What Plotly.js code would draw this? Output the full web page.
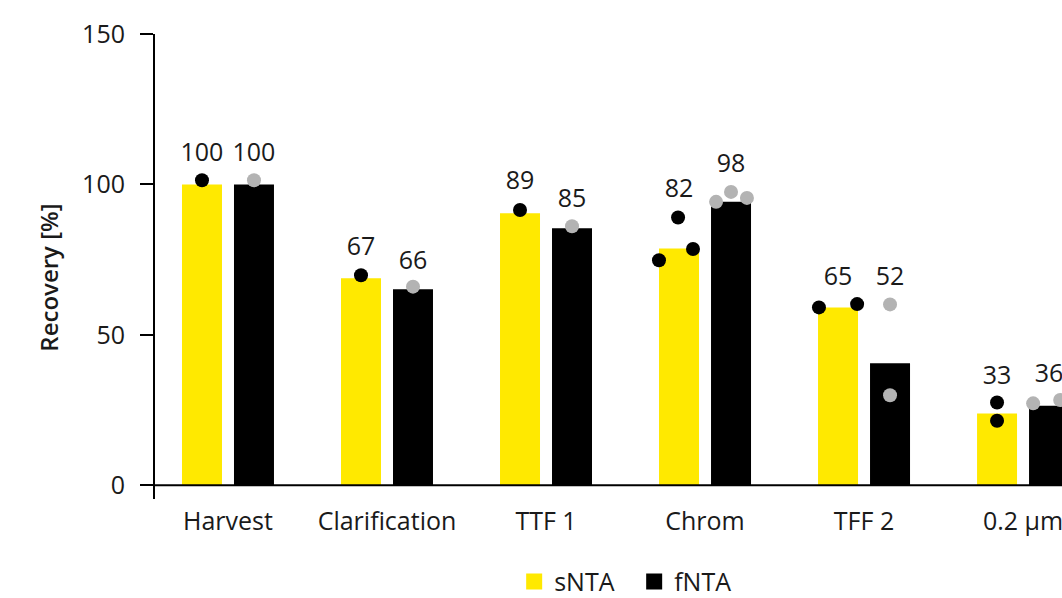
<!DOCTYPE html>
<html>
<head>
<meta charset="utf-8">
<script src="https://cdn.plot.ly/plotly-3.0.1.min.js"></script>
<style>html,body{margin:0;padding:0;background:#fff;}#chart{width:1062px;height:598px;}</style>
</head>
<body>
<div id="chart"></div>
<script>
// ---- data ----
var categories = ['Harvest', 'Clarification', 'TTF 1', 'Chrom', 'TFF 2', '0.2 µm'];
var sNTA = [100, 68.8, 90.4, 78.7, 59.1, 23.8];
var fNTA = [100, 65.1, 85.4, 94.2, 40.5, 26.4];
var sLabels = ['100', '67', '89', '82', '65', '33'];
var fLabels = ['100', '66', '85', '98', '52', '36'];
var sLabelY = [109.7, 78.5, 100.4, 97.8, 68.5, 35.6];
var fLabelY = [109.7, 73.8, 94.4, 106.1, 68.5, 36.4];
// replicate points per category
var sPoints = [[101.4], [69.8], [91.5], [74.8, 89.0, 78.5], [59.1, 60.2], [27.5, 21.4]];
var fPoints = [[101.4], [66.0], [86.1], [94.2, 97.5, 95.5], [60.1, 29.9], [27.2, 28.3]];
// horizontal jitter of points (fraction of category width)
var sJitter = [[0], [0], [0], [-0.126, -0.006, 0.088], [-0.12, 0.12], [0, 0]];
var fJitter = [[0], [0], [0], [-0.094, 0, 0.1], [0, 0], [-0.1, 0.07]];

// ---- build ----
var idx = categories.map(function (c, i) { return i; });
var off = 0.1635;
var yellow = '#ffe900', black = '#000000', grey = '#b3b3b3';
function pts(points, jit, shift) {
  var x = [], y = [];
  points.forEach(function (arr, i) {
    arr.forEach(function (v, k) { x.push(i + shift + jit[i][k]); y.push(v); });
  });
  return {x: x, y: y};
}
var sp = pts(sPoints, sJitter, -off);
var fp = pts(fPoints, fJitter, off);
var font = 'Open Sans, sans-serif';

var traces = [
  {type: 'bar', x: idx, y: sNTA, name: 'sNTA', marker: {color: yellow}, showlegend: false, hoverinfo: 'skip'},
  {type: 'bar', x: idx, y: fNTA, name: 'fNTA', marker: {color: black}, showlegend: false, hoverinfo: 'skip'},
  {type: 'scatter', mode: 'markers', x: sp.x, y: sp.y, marker: {color: black, size: 14}, showlegend: false},
  {type: 'scatter', mode: 'markers', x: fp.x, y: fp.y, marker: {color: grey, size: 14}, showlegend: false},
  {type: 'scatter', mode: 'text', x: idx.map(function (i) { return i - off; }), y: sLabelY, text: sLabels,
   textposition: 'middle center', textfont: {family: font, size: 25, color: '#1a1a1a'}, showlegend: false, cliponaxis: false},
  {type: 'scatter', mode: 'text', x: idx.map(function (i) { return i + off; }), y: fLabelY, text: fLabels,
   textposition: 'middle center', textfont: {family: font, size: 25, color: '#1a1a1a'}, showlegend: false, cliponaxis: false},
  {type: 'scatter', mode: 'markers', x: [null], y: [null], name: 'sNTA', marker: {color: yellow, size: 18, symbol: 'square'}},
  {type: 'scatter', mode: 'markers', x: [null], y: [null], name: 'fNTA', marker: {color: black, size: 18, symbol: 'square'}}
];

var layout = {
  width: 1062, height: 598,
  margin: {l: 155, r: 0, t: 34, b: 99, autoexpand: false},
  paper_bgcolor: '#fff', plot_bgcolor: '#fff',
  font: {family: font, color: '#1a1a1a', size: 24},
  barmode: 'group', bargap: 0.346, bargroupgap: 0.2308,
  xaxis: {
    range: [-0.459, 5.245], tickvals: idx, ticktext: categories, automargin: false,
    showgrid: false, zeroline: false, showline: false, ticks: '',
    ticklabeloverflow: 'allow',
    ticklabelstandoff: 5, tickfont: {family: font, size: 25, color: '#1a1a1a'}
  },
  yaxis: {
    range: [-4.6, 150], tickvals: [0, 50, 100, 150], automargin: false,
    showgrid: false, zeroline: false, showline: true, linecolor: '#000', linewidth: 2,
    ticks: 'outside', ticklen: 13, tickwidth: 2, tickcolor: '#000',
    ticklabelstandoff: 10, tickfont: {family: font, size: 25, color: '#1a1a1a'}
  },
  shapes: [{type: 'line', xref: 'paper', yref: 'y', x0: 0, x1: 1, y0: 0, y1: 0, line: {color: '#000', width: 2}}],
  annotations: [{
    text: 'Recovery [%]', xref: 'paper', yref: 'y', x: 0, y: 69, xshift: -106,
    xanchor: 'center', yanchor: 'middle', textangle: -90, showarrow: false,
    font: {family: font, size: 24, color: '#1a1a1a', weight: 600}
  }],
  showlegend: true,
  legend: {orientation: 'h', x: 0.396, xanchor: 'left', y: -0.178, yanchor: 'middle',
    entrywidth: 75, entrywidthmode: 'pixels',
    font: {family: font, size: 25, color: '#1a1a1a'}, bgcolor: 'rgba(0,0,0,0)', itemclick: false}
};

Plotly.newPlot('chart', traces, layout, {displayModeBar: false, staticPlot: true});
</script>
</body>
</html>
